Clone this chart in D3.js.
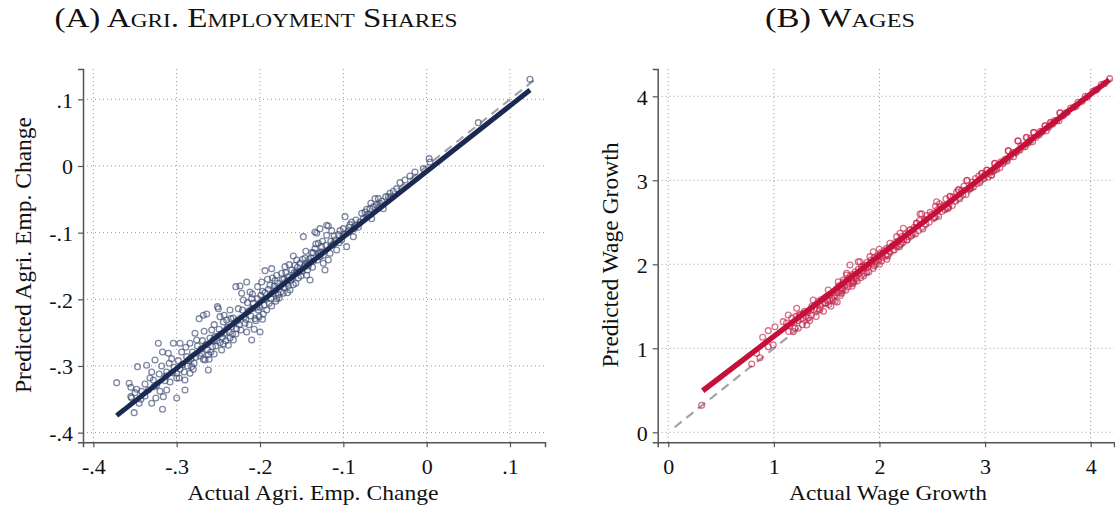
<!DOCTYPE html>
<html>
<head>
<meta charset="utf-8">
<script src="https://cdn.jsdelivr.net/npm/d3@7"></script>
<style>
  body { margin: 0; background: #fff; }
  svg { display: block; }
  text { font-family: "Liberation Serif", "Times New Roman", serif; fill: #111; }
</style>
</head>
<body>
<svg id="chart" width="1115" height="514"></svg>
<script>
// Panel A: actual vs predicted change in agricultural employment share
const agriPoints = [
  [-0.372,-0.325],[-0.357,-0.326],[-0.355,-0.332],[-0.355,-0.346],[-0.351,-0.370],[-0.347,-0.301],
  [-0.354,-0.348],[-0.348,-0.335],[-0.345,-0.356],[-0.336,-0.299],[-0.326,-0.291],[-0.330,-0.309],
  [-0.322,-0.266],[-0.328,-0.321],[-0.334,-0.336],[-0.338,-0.345],[-0.324,-0.329],[-0.325,-0.348],
  [-0.317,-0.365],[-0.316,-0.346],[-0.312,-0.336],[-0.317,-0.279],[-0.310,-0.281],[-0.312,-0.309],
  [-0.306,-0.289],[-0.304,-0.266],[-0.300,-0.311],[-0.308,-0.324],[-0.300,-0.348],[-0.290,-0.321],
  [-0.296,-0.266],[-0.294,-0.279],[-0.288,-0.286],[-0.282,-0.301],[-0.284,-0.266],[-0.278,-0.251],
  [-0.276,-0.261],[-0.273,-0.229],[-0.268,-0.224],[-0.264,-0.222],[-0.270,-0.281],[-0.266,-0.291],
  [-0.262,-0.306],[-0.258,-0.246],[-0.254,-0.256],[-0.250,-0.214],[-0.248,-0.226],[-0.244,-0.234],
  [-0.242,-0.251],[-0.246,-0.276],[-0.238,-0.269],[-0.236,-0.216],[-0.234,-0.241],[-0.232,-0.261],
  [-0.284,-0.311],[-0.290,-0.336],[-0.330,-0.356],[-0.251,-0.211],[-0.229,-0.181],[-0.224,-0.180],
  [-0.216,-0.174],[-0.210,-0.261],[-0.200,-0.249],[-0.194,-0.157],[-0.186,-0.154],[-0.180,-0.164],
  [-0.160,-0.135],
  [-0.342,-0.338],[-0.338,-0.327],[-0.332,-0.318],[-0.327,-0.331],[-0.321,-0.312],[-0.318,-0.300],
  [-0.314,-0.322],[-0.309,-0.296],[-0.303,-0.302],[-0.298,-0.292],[-0.297,-0.318],[-0.293,-0.298],
  [-0.289,-0.272],[-0.286,-0.292],[-0.281,-0.279],[-0.279,-0.296],[-0.275,-0.270],[-0.272,-0.285],
  [-0.269,-0.262],[-0.267,-0.248],[-0.263,-0.276],[-0.260,-0.258],[-0.257,-0.271],[-0.255,-0.238],
  [-0.252,-0.262],[-0.249,-0.245],[-0.245,-0.257],[-0.243,-0.224],[-0.240,-0.231],[-0.237,-0.249],
  [-0.235,-0.229],[-0.231,-0.236],[-0.228,-0.244],[-0.226,-0.214],[-0.222,-0.191],[-0.220,-0.201],
  [-0.219,-0.226],[-0.216,-0.249],[-0.214,-0.218],[-0.212,-0.189],[-0.210,-0.199],[-0.208,-0.206],
  [-0.206,-0.229],[-0.204,-0.212],[-0.202,-0.216],[-0.199,-0.194],[-0.198,-0.174],[-0.196,-0.222],
  [-0.193,-0.200],[-0.190,-0.185],[-0.188,-0.179],[-0.186,-0.210],[-0.184,-0.191],[-0.182,-0.172],
  [-0.178,-0.193],[-0.176,-0.181],[-0.174,-0.161],[-0.172,-0.191],[-0.170,-0.151],[-0.168,-0.176],
  [-0.166,-0.166],[-0.164,-0.186],[-0.162,-0.156],[-0.160,-0.178],[-0.158,-0.149],[-0.156,-0.141],
  [-0.154,-0.168],[-0.152,-0.146],[-0.150,-0.158],[-0.148,-0.106],[-0.146,-0.138],[-0.144,-0.164],
  [-0.142,-0.150],[-0.140,-0.171],[-0.138,-0.130],[-0.136,-0.143],[-0.134,-0.124],[-0.134,-0.099],
  [-0.132,-0.101],[-0.130,-0.116],[-0.128,-0.094],[-0.128,-0.136],[-0.126,-0.121],[-0.124,-0.134],
  [-0.124,-0.146],[-0.122,-0.156],[-0.120,-0.089],[-0.120,-0.104],[-0.118,-0.141],[-0.118,-0.090],
  [-0.116,-0.131],[-0.114,-0.097],[-0.112,-0.118],[-0.110,-0.111],[-0.108,-0.126],[-0.106,-0.103],
  [-0.104,-0.097],[-0.102,-0.111],[-0.100,-0.094],[-0.098,-0.076],[-0.096,-0.121],[-0.094,-0.098],
  [-0.092,-0.088],[-0.090,-0.084],[-0.088,-0.106],[-0.085,-0.081],[-0.082,-0.092],[-0.078,-0.071],
  [-0.076,-0.079],[-0.072,-0.065],[-0.070,-0.072],[-0.067,-0.056],[-0.066,-0.079],[-0.062,-0.049],
  [-0.060,-0.059],[-0.058,-0.049],[-0.056,-0.056],[-0.052,-0.064],[-0.049,-0.046],[-0.046,-0.046],
  [-0.040,-0.038],[-0.036,-0.034],[-0.032,-0.025],[-0.026,-0.021],[-0.020,-0.015],[-0.014,-0.009],
  [-0.004,-0.004],[0.003,0.011],[0.004,0.006],[0.062,0.065],[0.124,0.130],
  [-0.262,-0.283],[-0.255,-0.282],[-0.248,-0.265],[-0.241,-0.262],[-0.233,-0.252],[-0.225,-0.238],
  [-0.218,-0.236],[-0.211,-0.225],[-0.205,-0.232],[-0.201,-0.226],[-0.195,-0.209],[-0.192,-0.216],
  [-0.187,-0.199],[-0.181,-0.203],[-0.177,-0.198],[-0.171,-0.182],[-0.167,-0.190],[-0.163,-0.171],
  [-0.157,-0.176],[-0.153,-0.158],[-0.147,-0.151],[-0.143,-0.156],[-0.137,-0.152],[-0.131,-0.141],
  [-0.127,-0.129],[-0.215,-0.205],[-0.209,-0.192],[-0.203,-0.181],[-0.197,-0.188],[-0.191,-0.170],
  [-0.185,-0.168],[-0.179,-0.176],[-0.173,-0.170],[-0.169,-0.160],[-0.165,-0.148],[-0.159,-0.160],
  [-0.155,-0.152],[-0.149,-0.140],[-0.145,-0.128],[-0.139,-0.138],[-0.133,-0.117],
  [-0.300,-0.318],[-0.296,-0.305],[-0.291,-0.309],[-0.287,-0.300],[-0.283,-0.290],[-0.280,-0.305],
  [-0.277,-0.287],[-0.271,-0.275],[-0.268,-0.290],[-0.265,-0.268],[-0.261,-0.290],[-0.259,-0.279],
  [-0.256,-0.262],[-0.253,-0.270],[-0.247,-0.252],[-0.244,-0.267],[-0.239,-0.242],[-0.236,-0.258],
  [-0.232,-0.228],[-0.229,-0.252],[-0.227,-0.232],[-0.223,-0.246],[-0.221,-0.216],[-0.217,-0.230],
  [-0.213,-0.238],[-0.209,-0.214],[-0.207,-0.245],[-0.203,-0.199],[-0.200,-0.212],[-0.197,-0.230],
  [-0.194,-0.190],[-0.189,-0.206],[-0.183,-0.180],[-0.180,-0.199],[-0.175,-0.189],[-0.171,-0.170],
  [-0.166,-0.180],[-0.161,-0.167],[-0.156,-0.160],[-0.151,-0.165],[-0.146,-0.148],[-0.141,-0.140],
  [-0.136,-0.130],[-0.130,-0.131],[-0.125,-0.113],[-0.121,-0.119],[-0.115,-0.113],[-0.111,-0.105],
  [-0.105,-0.115],[-0.099,-0.102],[-0.093,-0.092],[-0.087,-0.094],[-0.080,-0.084],[-0.074,-0.069],
  [-0.068,-0.064],[-0.064,-0.061],[-0.054,-0.053],[-0.044,-0.041],[-0.320,-0.338],[-0.313,-0.315],
  [-0.305,-0.310],[-0.350,-0.340],[-0.343,-0.350]
];
const agriFit = [[-0.372, -0.3745], [0.124, 0.114]];
const agriDiag = [-0.372, 0.13];
const agriTicks = [-0.4, -0.3, -0.2, -0.1, 0, 0.1];

// Panel B: actual vs predicted wage growth
const wagePoints = [
  [0.316,0.321],[0.790,0.813],[0.868,0.888],[0.837,0.940],[0.894,1.131],[0.947,1.210],[0.994,1.039],
  [0.947,1.019],[1.010,1.257],[1.089,1.317],[1.136,1.396],[1.184,1.198],[1.231,1.238],[1.216,1.476],
  [1.278,1.357],[1.311,1.277],[1.358,1.396],[1.373,1.575],[1.436,1.456],[1.484,1.536],[1.515,1.694],
  [1.563,1.575],[1.610,1.793],[1.642,1.714],[1.689,1.873],[1.721,1.992],[1.799,2.031],[1.752,1.793],
  [1.12,1.30],[1.15,1.27],[1.17,1.36],[1.19,1.31],[1.21,1.38],[1.23,1.33],[1.25,1.40],[1.26,1.35],
  [1.28,1.42],[1.30,1.38],[1.32,1.43],[1.33,1.36],[1.35,1.45],[1.36,1.50],[1.38,1.46],[1.40,1.52],
  [1.41,1.47],[1.42,1.56],[1.44,1.50],[1.45,1.58],[1.46,1.53],[1.48,1.60],[1.49,1.54],[1.50,1.62],
  [1.51,1.57],[1.52,1.52],[1.53,1.64],[1.55,1.60],[1.56,1.66],[1.57,1.62],[1.58,1.56],[1.59,1.70],
  [1.60,1.66],[1.61,1.74],[1.62,1.68],[1.63,1.63],[1.64,1.76],[1.65,1.71],[1.66,1.79],[1.67,1.74],
  [1.68,1.69],[1.70,1.82],[1.71,1.77],[1.72,1.86],[1.73,1.80],[1.74,1.74],[1.75,1.88],[1.76,1.83],
  [1.77,1.91],[1.78,1.86],[1.79,1.80],[1.80,1.94],[1.81,1.89],[1.83,1.97],[1.84,1.92],[1.85,1.86],
  [1.86,1.99],[1.87,1.95],[1.88,2.02],[1.89,1.97],[1.90,1.91],[1.92,2.05],[1.93,2.00],[1.94,1.95],
  [1.95,2.08],[1.96,2.03],[1.98,2.10],[1.99,2.05],[2.00,2.00],[2.01,2.13],[2.03,2.08],[2.04,2.16],
  [2.06,2.11],[2.07,2.06],[2.09,2.19],[2.10,2.15],[2.12,2.22],[2.13,2.17],[2.15,2.26],[2.16,2.21],
  [2.18,2.28],[2.20,2.24],[2.21,2.33],[2.23,2.29],[2.25,2.36],[2.27,2.33],[2.29,2.41],[2.31,2.37],
  [2.33,2.44],[2.35,2.49],[2.38,2.52],[2.40,2.60],[2.43,2.53],[2.45,2.58],[2.48,2.62],[2.50,2.60],
  [2.53,2.69],[2.55,2.65],[2.57,2.72],[2.60,2.70],[2.63,2.78],[2.65,2.67],[2.67,2.81],[2.70,2.80],
  [2.73,2.86],[2.75,2.89],[2.78,2.88],[2.80,2.93],[2.83,3.00],[2.86,2.91],[2.88,2.98],[2.91,3.02],
  [2.94,3.05],[2.97,3.08],[3.00,3.07],[3.02,3.12],[3.06,3.06],[3.09,3.20],[3.12,3.18],[3.15,3.22],
  [3.19,3.25],[3.22,3.35],[3.26,3.33],[3.31,3.47],[3.34,3.41],[3.39,3.51],[3.43,3.50],[3.46,3.57],
  [3.52,3.58],[3.57,3.65],[3.62,3.69],[3.66,3.71],[3.71,3.80],[3.76,3.80],[3.81,3.86],[3.88,3.93],
  [3.95,4.00],[4.02,4.06],[4.10,4.14],[4.18,4.21],
  [1.642,1.655],[1.657,1.813],[1.689,1.893],[1.784,1.833],[1.815,2.031],[1.847,1.971],[1.910,2.091],
  [1.926,2.031],[1.941,2.150],[1.998,2.179],[2.005,2.091],[2.068,2.190],[2.099,2.250],[2.147,2.230],
  [2.163,2.329],[2.194,2.369],[2.226,2.429],[2.258,2.289],[2.289,2.408],[2.352,2.488],[2.384,2.599],
  [2.431,2.527],[2.526,2.567],[2.541,2.745],[2.573,2.686],[2.651,2.667],[2.667,2.805],[2.746,2.885],
  [2.826,2.995],[2.857,2.905],[2.968,3.083],[3.015,3.123],[3.062,3.063],[3.094,3.202],[3.220,3.352],
  [3.314,3.468],[3.394,3.512],[3.463,3.567],[3.567,3.650],[3.621,3.686],[3.709,3.805],
  [1.14,1.20],[1.20,1.24],[1.27,1.28],[1.34,1.33],[1.40,1.38],[1.47,1.44],[1.54,1.50],[1.60,1.55],
  [1.24,1.40],[1.29,1.44],
  [2.22,2.26],[2.30,2.34],[2.37,2.40],[2.44,2.48],[2.52,2.55],[2.59,2.63],[2.66,2.72],[2.72,2.75],
  [2.79,2.83],[2.85,2.90],[2.92,2.96],[2.99,3.02],[3.05,3.10],[3.11,3.13],[3.17,3.20],[3.24,3.28],
  [3.29,3.33],[3.36,3.40],[3.41,3.45],[3.48,3.51],[3.54,3.58],[3.60,3.63],[3.68,3.71],[3.74,3.77],
  [3.84,3.87],[3.92,3.94],[4.06,4.08],[1.70,1.73],[1.75,1.77],[1.82,1.84],[1.88,1.90],[1.95,1.98],
  [2.02,2.04],[2.08,2.10],[2.14,2.17],[2.19,2.21],[2.26,2.29],
  [2.34,2.36],[2.41,2.42],[2.47,2.50],[2.56,2.57],[2.62,2.65],[2.69,2.70],[2.76,2.78],[2.82,2.83],
  [2.89,2.92],[2.95,2.97],[3.03,3.04],[3.08,3.11],[3.14,3.15],[3.21,3.23],[3.27,3.28],[3.33,3.36],
  [3.38,3.40],[3.45,3.46],[3.51,3.54],[3.58,3.59],[3.64,3.67],[3.70,3.71],[3.78,3.81],[3.86,3.88],
  [3.97,3.99],[4.04,4.07],[4.13,4.15]
];
const wageFit = [[0.326, 0.495], [4.176, 4.195]];
const wageDiag = [0.06, 4.2];
const wageTicks = [0, 1, 2, 3, 4];

const svg = d3.select("#chart");

// Stata style labels: ".1", "-.2", "0"
const shortFmt = v => v === 0 ? "0" : String(v).replace("0.", ".");

const panels = [
  {
    title: "(A) Agri. Employment Shares", titleX: 256, titleLen: 403,
    xLabel: "Actual Agri. Emp. Change", xLabelX: 313, xLabelLen: 251,
    yLabel: "Predicted Agri. Emp. Change", yLabelX: 31, yLabelLen: 276,
    left: 83, right: 545, xDomain: [-0.4124, 0.142], yDomain: [-0.4145, 0.1455],
    ticks: agriTicks, fmt: shortFmt,
    points: agriPoints, fit: agriFit, diag: agriDiag,
    color: "#1b2a52", pointColor: "#3a4872", fitWidth: 5
  },
  {
    title: "(B) Wages", titleX: 840, titleLen: 150,
    xLabel: "Actual Wage Growth", xLabelX: 888, xLabelLen: 198,
    yLabel: "Predicted Wage Growth", yLabelX: 618, yLabelLen: 225,
    left: 657.7, right: 1114, xDomain: [-0.1, 4.221], yDomain: [-0.119, 4.325],
    ticks: wageTicks, fmt: shortFmt,
    points: wagePoints, fit: wageFit, diag: wageDiag,
    color: "#c5103a", pointColor: "#c8204a", fitWidth: 5.5
  }
];

const plotTop = 69, plotBottom = 442.3;

panels.forEach(p => {
  const x = d3.scaleLinear().domain(p.xDomain).range([p.left, p.right]);
  const y = d3.scaleLinear().domain(p.yDomain).range([plotBottom, plotTop]);
  const g = svg.append("g");

  // grid
  g.append("g").selectAll("line").data(p.ticks).join("line")
    .attr("x1", d => x(d)).attr("x2", d => x(d))
    .attr("y1", plotTop).attr("y2", plotBottom)
    .attr("stroke", "#9a9a9a").attr("stroke-width", 1).attr("stroke-dasharray", "1,3");
  g.append("g").selectAll("line").data(p.ticks).join("line")
    .attr("y1", d => y(d)).attr("y2", d => y(d))
    .attr("x1", p.left).attr("x2", p.right)
    .attr("stroke", "#9a9a9a").attr("stroke-width", 1).attr("stroke-dasharray", "1,3");

  // axes
  const xAxis = g.append("g").attr("transform", `translate(0,${plotBottom})`)
    .call(d3.axisBottom(x).tickValues(p.ticks).tickFormat(p.fmt).tickSize(5).tickPadding(6));
  const yAxis = g.append("g").attr("transform", `translate(${p.left},0)`)
    .call(d3.axisLeft(y).tickValues(p.ticks).tickFormat(p.fmt).tickSize(5).tickPadding(5));
  [xAxis, yAxis].forEach(a => {
    a.select(".domain").attr("stroke", "#555").attr("stroke-width", 1.5);
    a.selectAll(".tick line").attr("stroke", "#555").attr("stroke-width", 1.2);
    a.selectAll(".tick text").attr("font-family", "Liberation Serif, serif")
      .attr("font-size", 22).attr("fill", "#111");
  });
  xAxis.selectAll(".tick text").attr("dy", "0.95em");
  yAxis.selectAll(".tick text").attr("dy", "0.36em");

  // 45 degree reference line
  g.append("line")
    .attr("x1", x(p.diag[0])).attr("y1", y(p.diag[0]))
    .attr("x2", x(p.diag[1])).attr("y2", y(p.diag[1]))
    .attr("stroke", "#a3a3a3").attr("stroke-width", 2.2).attr("stroke-dasharray", "9,6");

  // points
  g.append("g").selectAll("circle").data(p.points).join("circle")
    .attr("cx", d => x(d[0])).attr("cy", d => y(d[1])).attr("r", 2.9)
    .attr("fill", "none").attr("stroke", p.pointColor)
    .attr("stroke-opacity", 0.65).attr("stroke-width", 1.3);

  // fitted line
  g.append("line")
    .attr("x1", x(p.fit[0][0])).attr("y1", y(p.fit[0][1]))
    .attr("x2", x(p.fit[1][0])).attr("y2", y(p.fit[1][1]))
    .attr("stroke", p.color).attr("stroke-width", p.fitWidth);

  // titles
  svg.append("text").attr("x", p.titleX).attr("y", 27)
    .attr("text-anchor", "middle").attr("font-size", 27)
    .style("font-variant", "small-caps")
    .attr("textLength", p.titleLen).attr("lengthAdjust", "spacingAndGlyphs")
    .text(p.title);
  svg.append("text").attr("x", p.xLabelX).attr("y", 500)
    .attr("text-anchor", "middle").attr("font-size", 22)
    .attr("textLength", p.xLabelLen).attr("lengthAdjust", "spacingAndGlyphs")
    .text(p.xLabel);
  svg.append("text")
    .attr("transform", `translate(${p.yLabelX},255) rotate(-90)`)
    .attr("text-anchor", "middle").attr("font-size", 23)
    .attr("textLength", p.yLabelLen).attr("lengthAdjust", "spacingAndGlyphs")
    .text(p.yLabel);
});
</script>
</body>
</html>
